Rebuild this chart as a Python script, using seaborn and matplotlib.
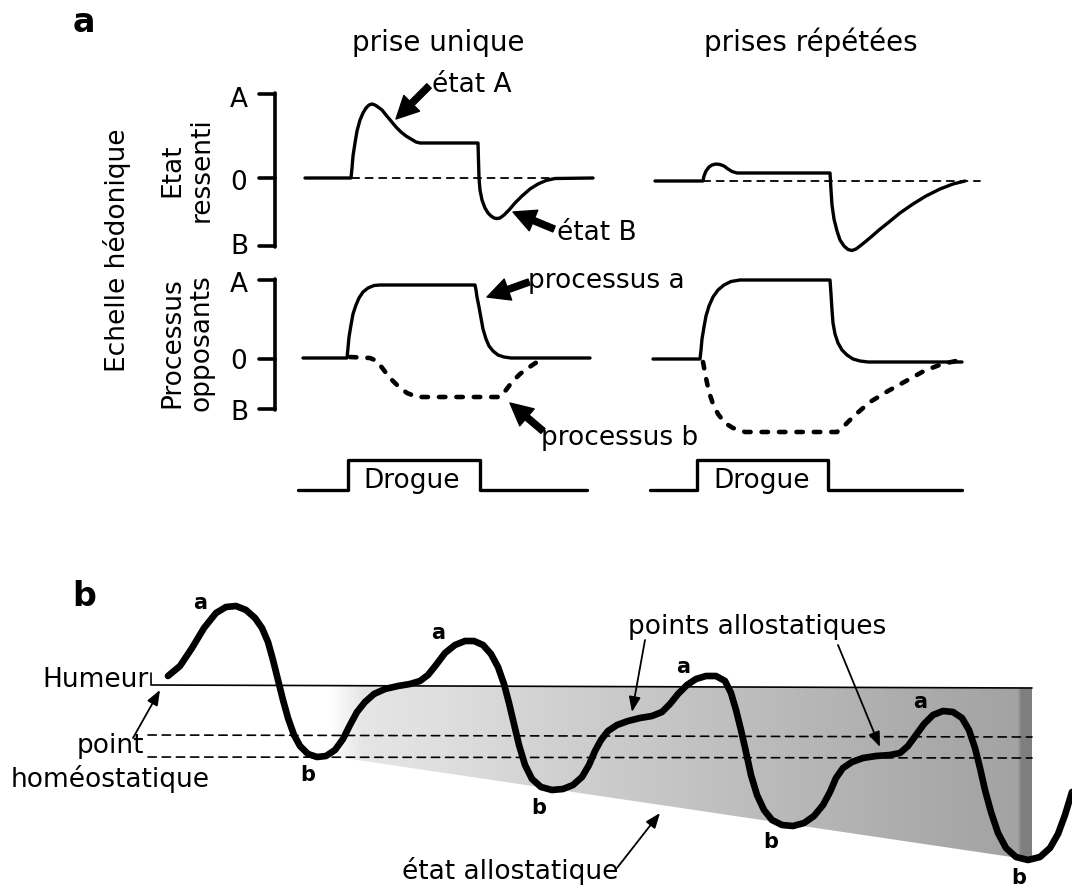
import numpy as np
import pandas as pd
import matplotlib
matplotlib.use("Agg")
import matplotlib.pyplot as plt
import seaborn as sns
from matplotlib.patches import FancyArrowPatch, Polygon, ArrowStyle

sns.set_theme(style="white")
plt.rcParams['font.family'] = ['DejaVu Sans']
plt.rcParams['text.color'] = 'black'

# ---------------- data (pixel-space schematic values) -------------
# Panel a, "prise unique": feeling state (etat ressenti)
single_state_x = [305, 351, 352, 353, 355, 357, 360, 363, 366, 369, 372, 375, 378, 382,
                  386, 391, 396, 401, 406, 411, 416, 420, 478, 479, 480, 482, 485, 488,
                  491, 494, 497, 500, 504, 509, 515, 522, 530, 538, 546, 555, 593]
single_state_y = [178, 178, 168, 156, 143, 131, 120, 113, 108, 105, 104, 105, 107, 110,
                  115, 121, 127, 132, 136, 139, 142, 143, 143, 178, 190, 200, 208, 213,
                  216, 218, 218.5, 218, 215, 210, 203, 196, 189, 184, 180.5, 178.5, 178]
# Panel a, "prises repetees": feeling state
rep_state_x = [655, 703, 704, 706, 709, 712, 716, 720, 724, 728, 732, 737, 830, 831, 832,
               834, 837, 840, 844, 848, 852, 856, 860, 865, 871, 879, 889, 900, 913, 926,
               940, 953, 965]
rep_state_y = [181, 181, 176, 171, 167, 165, 164, 164.5, 166, 169, 171.5, 173, 173, 190,
               205, 219, 231, 240, 246, 249.5, 250.5, 249, 246, 242, 237, 230, 222, 213,
               204, 196, 189, 184, 181]
# zero reference (dashed)
single_zero_x = [352, 550]
single_zero_y = [178, 178]
rep_zero_x = [703, 980]
rep_zero_y = [181, 181]

# opponent processes
single_a_x = [303, 347, 348, 349, 351, 353, 356, 359, 363, 368, 374, 380, 475, 476, 477,
              479, 481, 483, 486, 489, 493, 498, 504, 511, 590]
single_a_y = [358, 358, 348, 337, 325, 314, 305, 298, 292, 288, 285.5, 285, 285, 290,
              297, 307, 318, 329, 339, 346, 351, 355, 357, 358, 358]
single_b_x = [350, 370, 377, 383, 390, 398, 407, 417, 500, 506, 512, 520, 528, 537, 546]
single_b_y = [357, 358, 361, 369, 378, 386, 393, 397, 397, 390, 382, 374, 368, 362, 359]
rep_a_x = [653, 700, 701, 702, 704, 706, 709, 713, 718, 724, 731, 740, 830, 831, 832, 833,
           835, 838, 842, 847, 853, 860, 868, 877, 962]
rep_a_y = [359, 359, 350, 339, 327, 316, 306, 297, 290, 285, 281.5, 280, 280, 294, 310,
           323, 334, 343, 350, 355, 359, 361, 362, 362, 362]
rep_b_x = [703, 706, 709, 713, 718, 725, 733, 745, 837, 845, 855, 870, 888, 906, 924, 942,
           956]
rep_b_y = [362, 378, 392, 404, 414, 423, 428, 432, 432, 425, 415, 402, 391, 381, 371, 364,
           361]

# drug on/off traces
single_drug_x = [298, 348, 348, 480, 480, 587]
rep_drug_x = [650, 697, 697, 828, 828, 962]
drug_y = [490, 490, 460, 460, 490, 490]

# bracket scales
scale_top_y = [94, 178, 246]
scale_bot_y = [280, 359, 409]
scale_labels = ["A", "0", "B"]

# Panel b: mood curve
mood_x = [168, 180, 192, 204, 216, 226, 236, 246, 255, 262, 268, 273, 278, 283, 288, 294,
          300, 308, 317, 326, 335, 343, 350, 357, 365, 374, 385, 398, 410, 420, 428, 436,
          445, 455, 465, 474, 483, 491, 498, 504, 509, 514, 519, 525, 532, 541, 552, 563,
          573, 582, 589, 595, 601, 608, 617, 628, 640, 652, 662, 670, 678, 687, 696, 706,
          716, 725, 731, 736, 741, 746, 751, 757, 764, 772, 782, 793, 804, 814, 823, 830,
          836, 843, 852, 863, 876, 890, 900, 908, 916, 924, 933, 943, 953, 962, 969, 975,
          980, 985, 991, 998, 1006, 1016, 1028, 1040, 1050, 1058, 1065, 1072]
mood_y = [676, 666, 648, 628, 613, 607, 606, 610, 618, 628, 642, 660, 680, 700, 718, 735,
          746, 754, 757, 756, 750, 739, 725, 712, 702, 694, 689, 686, 684, 681, 675, 665,
          653, 645, 641, 641, 645, 654, 667, 684, 703, 724, 745, 765, 779, 787, 790, 789,
          785, 777, 765, 751, 740, 731, 725, 721, 718, 716, 712, 704, 694, 685, 679, 676,
          676, 681, 693, 710, 730, 752, 775, 795, 810, 820, 825, 826, 823, 816, 805, 792,
          778, 768, 762, 758, 756, 755, 753, 746, 735, 724, 715, 711, 712, 718, 730, 748,
          768, 790, 812, 833, 848, 857, 860, 857, 848, 834, 815, 792]
humeur_x = [151, 151, 1032]
humeur_y = [673, 685, 688]
set_point_upper_y = 735
set_point_lower_y = 757
lines_x = [148, 1032]
# allostatic state wedge
wedge_x = [330, 1032, 1032, 330]
wedge_y = [686, 688, 860, 756]
shade_stop_x = [330, 362, 450, 550, 650, 750, 850, 950, 1018, 1022, 1032]
shade_stop_gray = [1.0, 0.90, 0.87, 0.82, 0.78, 0.74, 0.70, 0.66, 0.64, 0.50, 0.50]
peak_labels_xy = [(200, 603), (438, 633), (683, 667), (920, 702)]
trough_labels_xy = [(308, 775), (539, 808), (771, 842), (1019, 878)]

# ---------------- figure ----------------
fig = plt.figure(figsize=(10.72, 8.88), dpi=100)
ax = fig.add_axes([0, 0, 1, 1])
ax.axis("off")

K = "black"
FS = 19


def curve(x, y, lw, ls="-", z=3):
    df = pd.DataFrame({"x": x, "y": y})
    sns.lineplot(data=df, x="x", y="y", ax=ax, sort=False, estimator=None, color=K,
                 lw=lw, linestyle=ls, solid_joinstyle="round", solid_capstyle="round",
                 dash_capstyle="round", zorder=z, legend=False)


# shading wedge (panel b)
cols = np.arange(wedge_x[0], wedge_x[1] + 1)
g = np.interp(cols, shade_stop_x, shade_stop_gray)
img = np.dstack([g, g, g]).reshape(1, len(cols), 3)
im = ax.imshow(img, extent=(wedge_x[0], wedge_x[1], max(wedge_y), min(wedge_y)),
               aspect="auto", interpolation="nearest", zorder=1)
poly = Polygon(list(zip(wedge_x, wedge_y)), closed=True, facecolor="none", edgecolor="none")
ax.add_patch(poly)
im.set_clip_path(poly)

# panel a curves
curve(single_state_x, single_state_y, 2.4)
curve(rep_state_x, rep_state_y, 2.4)
curve(single_zero_x, single_zero_y, 1.3, ls=(0, (4, 3.5)), z=2)
curve(rep_zero_x, rep_zero_y, 1.3, ls=(0, (4, 3.5)), z=2)
curve(single_a_x, single_a_y, 2.4)
curve(rep_a_x, rep_a_y, 2.4)
curve(single_b_x, single_b_y, 3.3, ls=(0, (1.4, 2.4)))
curve(rep_b_x, rep_b_y, 3.3, ls=(0, (1.4, 2.4)))
curve(single_drug_x, drug_y, 2.4)
curve(rep_drug_x, drug_y, 2.4)

# brackets
for ys in (scale_top_y, scale_bot_y):
    curve([275, 275], [ys[0] - 1, ys[-1] + 1], 2.6)
    for yy in ys:
        curve([259, 275], [yy, yy], 2.6)
for ys, bases in ((scale_top_y, [107, 190, 254]), (scale_bot_y, [292, 369, 420])):
    for lab, b in zip(scale_labels, bases):
        ax.text(239, b, lab, fontsize=FS, ha="center", va="baseline")

# panel a texts
ax.text(84, 23, "a", fontsize=24, fontweight="bold", ha="center", va="center")
ax.text(438, 51, "prise unique", fontsize=20, ha="center", va="baseline")
ax.text(811, 51, "prises répétées", fontsize=20, ha="center", va="baseline")
ax.text(117, 250, "Echelle hédonique", fontsize=FS, rotation=90, ha="center", va="center")
ax.text(187, 170, "Etat\nressenti", fontsize=FS, rotation=90, ha="center", va="center",
        multialignment="center", linespacing=1.2)
ax.text(187, 343, "Processus\nopposants", fontsize=FS, rotation=90, ha="center",
        va="center", multialignment="center", linespacing=1.2)
ax.text(472, 92, "état A", fontsize=FS, ha="center", va="baseline")
ax.text(597, 240, "état B", fontsize=FS, ha="center", va="baseline")
ax.text(606, 288, "processus a", fontsize=FS, ha="center", va="baseline")
ax.text(620, 445, "processus b", fontsize=FS, ha="center", va="baseline")
ax.text(412, 488, "Drogue", fontsize=FS, ha="center", va="baseline")
ax.text(762, 488, "Drogue", fontsize=FS, ha="center", va="baseline")

fat = ArrowStyle.Simple(head_length=1.6, head_width=1.6, tail_width=0.45)
for tail, tip in [((429, 86), (396, 119)), ((554, 229), (513, 212)),
                  ((529, 282), (487, 297)), ((543, 431), (510, 403))]:
    ax.add_patch(FancyArrowPatch(tail, tip, arrowstyle=fat, mutation_scale=10, color=K,
                                 shrinkA=0, shrinkB=0, zorder=4, joinstyle="round"))

# panel b
curve(humeur_x, humeur_y, 1.2, z=2)
curve(lines_x, [set_point_upper_y, set_point_upper_y + 2], 1.2, ls=(0, (5, 3.5)), z=2)
curve(lines_x, [set_point_lower_y, set_point_lower_y + 1], 1.2, ls=(0, (5, 3.5)), z=2)
curve(mood_x, mood_y, 4.8, z=3)

ax.text(84, 596, "b", fontsize=24, fontweight="bold", ha="center", va="center")
ax.text(149, 687, "Humeur", fontsize=FS, ha="right", va="baseline")
ax.text(144, 753, "point", fontsize=FS, ha="right", va="baseline")
ax.text(110, 787, "homéostatique", fontsize=FS, ha="center", va="baseline")
ax.text(757, 634, "points allostatiques", fontsize=FS, ha="center", va="baseline")
ax.text(510, 879, "état allostatique", fontsize=FS, ha="center", va="baseline")

for (x, y) in peak_labels_xy:
    ax.text(x, y, "a", fontsize=15, fontweight="bold", family="DejaVu Sans",
            ha="center", va="center", zorder=5)
for (x, y) in trough_labels_xy:
    ax.text(x, y, "b", fontsize=15, fontweight="bold", family="DejaVu Sans",
            ha="center", va="center", zorder=5)

thin = ArrowStyle("-|>", head_length=0.9, head_width=0.35)
for tail, tip in [((133, 738), (160, 690)), ((645, 640), (632, 712)),
                  ((838, 645), (880, 747)), ((617, 868), (660, 813))]:
    ax.add_patch(FancyArrowPatch(tail, tip, arrowstyle=thin, mutation_scale=10, color=K,
                                 lw=1.3, shrinkA=0, shrinkB=0, zorder=4))

ax.set_xlim(0, 1072)
ax.set_ylim(888, 0)
fig.savefig("out.png", dpi=100)
